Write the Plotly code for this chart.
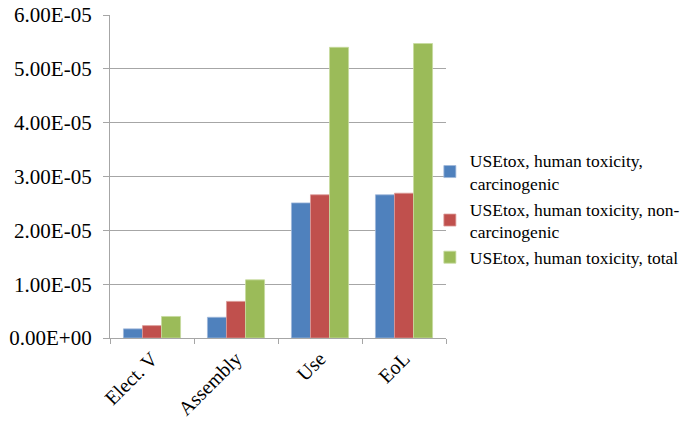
import plotly.graph_objects as go

# Life-cycle stages and USEtox human toxicity scores
stages = ["Elect. V", "Assembly", "Use", "EoL"]
carcinogenic = [1.7e-06, 3.85e-06, 2.51e-05, 2.66e-05]
non_carcinogenic = [2.3e-06, 6.8e-06, 2.66e-05, 2.69e-05]
total = [4.0e-06, 1.08e-05, 5.40e-05, 5.47e-05]

series_names = [
    "USEtox, human toxicity,<br>carcinogenic",
    "USEtox, human toxicity, non-<br>carcinogenic",
    "USEtox, human toxicity, total",
]
colors = ["#4F81BD", "#C0504D", "#9BBB59"]
edge_colors = ["#9fb8db", "#dc9a98", "#c7da9e"]

y_ticks = [0, 1e-05, 2e-05, 3e-05, 4e-05, 5e-05, 6e-05]
y_tick_text = [f"{v:.2E}" for v in y_ticks]

FONT = "Liberation Serif, Times New Roman, serif"

fig = go.Figure()
for name, vals, col, edge in zip(series_names, [carcinogenic, non_carcinogenic, total], colors, edge_colors):
    fig.add_trace(go.Bar(
        x=stages, y=vals, name=name,
        marker=dict(color=col, line=dict(color=edge, width=0.8)),
    ))

fig.update_layout(
    width=686, height=431,
    margin=dict(l=110, r=240, t=15, b=93, autoexpand=False),
    paper_bgcolor="white", plot_bgcolor="white",
    barmode="group", bargap=0.32, bargroupgap=0,
    font=dict(family=FONT, color="#000000"),
    legend=dict(
        x=0.952, y=0.40, xanchor="left", yanchor="middle",
        font=dict(family=FONT, size=17.5, color="#000000"),
        itemwidth=30, tracegroupgap=8,
        bgcolor="rgba(0,0,0,0)",
    ),
    showlegend=True,
)

fig.update_yaxes(
    range=[0, 6e-05],
    tickvals=y_ticks, ticktext=y_tick_text,
    tickfont=dict(family=FONT, size=21, color="#000000"),
    ticklabelstandoff=7,
    showgrid=True, gridcolor="#a6a6a6", gridwidth=1.3,
    showline=True, linecolor="#a6a6a6", linewidth=1.3,
    ticks="outside", ticklen=6, tickcolor="#a6a6a6", tickwidth=1.3,
    zeroline=False,
)
fig.update_xaxes(
    tickangle=-45,
    tickfont=dict(family=FONT, size=20, color="#000000"),
    showline=True, linecolor="#a6a6a6", linewidth=1.3,
    ticks="outside", ticklen=5, tickcolor="#a6a6a6", tickwidth=1.3,
    tickson="boundaries",
    showgrid=False,
)

fig.write_html("out.html")
